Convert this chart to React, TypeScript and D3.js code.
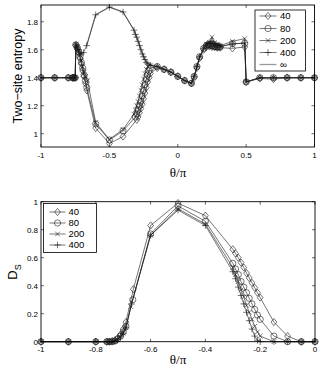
import * as d3 from 'd3'
import React from 'react'

const sans = '"Liberation Sans", Arial, Helvetica, sans-serif'
const serif = '"Liberation Serif", "Times New Roman", serif'

// ---- top panel: two-site entropy vs theta/pi ----
const top40: [number, number][] = [
  [-1, 1.4], [-0.9, 1.4], [-0.8, 1.4], [-0.77, 1.4], [-0.76, 1.4], [-0.75, 1.4],
  [-0.745, 1.63], [-0.735, 1.61], [-0.725, 1.58], [-0.715, 1.54], [-0.705, 1.5], [-0.695, 1.45],
  [-0.685, 1.41], [-0.675, 1.36], [-0.665, 1.31], [-0.6, 1.04], [-0.5, 0.93], [-0.4, 0.98],
  [-0.3, 1.1], [-0.29, 1.12], [-0.28, 1.15], [-0.27, 1.18], [-0.26, 1.21], [-0.25, 1.25],
  [-0.24, 1.29], [-0.23, 1.33], [-0.22, 1.37], [-0.21, 1.4], [-0.2, 1.43], [-0.15, 1.47],
  [-0.1, 1.46], [-0.05, 1.44], [0, 1.41], [0.05, 1.38], [0.1, 1.36], [0.12, 1.4], [0.14, 1.47],
  [0.16, 1.54], [0.19, 1.6], [0.21, 1.62], [0.23, 1.625], [0.25, 1.62], [0.27, 1.62], [0.29, 1.615],
  [0.31, 1.615], [0.4, 1.61], [0.49, 1.62], [0.5, 1.37], [0.6, 1.395], [0.7, 1.39], [0.8, 1.4],
  [0.9, 1.4], [1, 1.4],
]
const top80: [number, number][] = [
  [-1, 1.4], [-0.9, 1.4], [-0.8, 1.4], [-0.77, 1.4], [-0.76, 1.4], [-0.75, 1.4],
  [-0.745, 1.635], [-0.735, 1.615], [-0.725, 1.585], [-0.715, 1.55], [-0.705, 1.51], [-0.695, 1.47],
  [-0.685, 1.42], [-0.675, 1.38], [-0.665, 1.33], [-0.6, 1.07], [-0.5, 0.955], [-0.4, 1.02],
  [-0.31, 1.12], [-0.3, 1.14], [-0.29, 1.17], [-0.28, 1.2], [-0.27, 1.23], [-0.26, 1.27],
  [-0.25, 1.31], [-0.24, 1.35], [-0.23, 1.39], [-0.22, 1.42], [-0.21, 1.45], [-0.2, 1.47],
  [-0.15, 1.48], [-0.1, 1.46], [-0.05, 1.44], [0, 1.41], [0.05, 1.38], [0.1, 1.36], [0.12, 1.41],
  [0.14, 1.48], [0.16, 1.55], [0.19, 1.61], [0.21, 1.63], [0.22, 1.635], [0.23, 1.635], [0.24, 1.63],
  [0.25, 1.63], [0.26, 1.625], [0.27, 1.625], [0.28, 1.62], [0.29, 1.62], [0.3, 1.62], [0.31, 1.62],
  [0.4, 1.645], [0.49, 1.645], [0.5, 1.37], [0.6, 1.4], [0.7, 1.4], [0.8, 1.4], [0.9, 1.4], [1, 1.4],
]
const top200: [number, number][] = [
  [-1, 1.4], [-0.9, 1.4], [-0.8, 1.4], [-0.77, 1.4], [-0.76, 1.4], [-0.75, 1.4],
  [-0.745, 1.64], [-0.735, 1.62], [-0.725, 1.59], [-0.715, 1.56], [-0.705, 1.52], [-0.695, 1.48],
  [-0.685, 1.44], [-0.675, 1.41], [-0.66, 1.38], [-0.6, 1.08], [-0.5, 0.96], [-0.4, 1.03],
  [-0.32, 1.14], [-0.31, 1.17], [-0.3, 1.2], [-0.29, 1.23], [-0.28, 1.27], [-0.27, 1.31],
  [-0.26, 1.35], [-0.25, 1.39], [-0.24, 1.43], [-0.23, 1.46], [-0.22, 1.48], [-0.2, 1.49],
  [-0.15, 1.48], [-0.1, 1.46], [-0.05, 1.44], [0, 1.41], [0.05, 1.38], [0.1, 1.36], [0.12, 1.41],
  [0.14, 1.48], [0.16, 1.55], [0.19, 1.61], [0.21, 1.64], [0.23, 1.65], [0.25, 1.69], [0.27, 1.65],
  [0.29, 1.64], [0.31, 1.63], [0.4, 1.66], [0.49, 1.68], [0.5, 1.37], [0.6, 1.4], [0.7, 1.4],
  [0.8, 1.4], [0.9, 1.4], [1, 1.4],
]
const top400: [number, number][] = [
  [-1, 1.4], [-0.9, 1.4], [-0.8, 1.4], [-0.77, 1.4], [-0.76, 1.4], [-0.75, 1.4],
  [-0.745, 1.64], [-0.735, 1.62], [-0.725, 1.6], [-0.715, 1.58], [-0.705, 1.57], [-0.69, 1.58],
  [-0.666, 1.63], [-0.6, 1.85], [-0.5, 1.905], [-0.4, 1.87], [-0.32, 1.74], [-0.31, 1.71],
  [-0.3, 1.69], [-0.29, 1.66], [-0.28, 1.63], [-0.27, 1.6], [-0.26, 1.57], [-0.25, 1.55],
  [-0.24, 1.53], [-0.23, 1.51], [-0.22, 1.5], [-0.2, 1.49], [-0.15, 1.48], [-0.1, 1.46],
  [-0.05, 1.44], [0, 1.41], [0.05, 1.38], [0.1, 1.36], [0.12, 1.41], [0.14, 1.48], [0.16, 1.55],
  [0.19, 1.61], [0.21, 1.635], [0.22, 1.645], [0.23, 1.65], [0.24, 1.645], [0.25, 1.66], [0.26, 1.645],
  [0.27, 1.64], [0.28, 1.635], [0.29, 1.63], [0.3, 1.63], [0.31, 1.625], [0.4, 1.64], [0.49, 1.65],
  [0.5, 1.37], [0.6, 1.4], [0.7, 1.4], [0.8, 1.4], [0.9, 1.4], [1, 1.4],
]
const topInf: [number, number][] = [
  [-0.666, 1.63], [-0.6, 1.85], [-0.5, 1.905], [-0.4, 1.87], [-0.32, 1.74], [-0.23, 1.51], [-0.2, 1.49],
]

// ---- bottom panel: D_S vs theta/pi ----
const bot40: [number, number][] = [
  [-1, 0], [-0.9, 0], [-0.8, 0], [-0.76, 0], [-0.75, 0], [-0.74, 0.005], [-0.73, 0.01], [-0.72, 0.025],
  [-0.71, 0.05], [-0.7, 0.09], [-0.69, 0.14], [-0.663, 0.375], [-0.6, 0.83], [-0.5, 0.99], [-0.4, 0.9],
  [-0.3, 0.66], [-0.29, 0.63], [-0.28, 0.6], [-0.27, 0.565], [-0.26, 0.53], [-0.25, 0.49], [-0.24, 0.455],
  [-0.23, 0.42], [-0.22, 0.385], [-0.21, 0.35], [-0.2, 0.315], [-0.15, 0.14], [-0.1, 0.04], [-0.05, 0], [0, 0],
]
const bot80: [number, number][] = [
  [-1, 0], [-0.9, 0], [-0.8, 0], [-0.76, 0], [-0.75, 0], [-0.74, 0], [-0.73, 0.005], [-0.72, 0.02],
  [-0.71, 0.04], [-0.7, 0.07], [-0.69, 0.11], [-0.665, 0.3], [-0.6, 0.77], [-0.5, 0.97], [-0.4, 0.86],
  [-0.3, 0.56], [-0.29, 0.52], [-0.28, 0.48], [-0.27, 0.43], [-0.26, 0.39], [-0.25, 0.35], [-0.24, 0.31],
  [-0.23, 0.27], [-0.22, 0.23], [-0.21, 0.19], [-0.2, 0.16], [-0.15, 0.04], [-0.1, 0], [-0.05, 0], [0, 0],
]
const bot200: [number, number][] = [
  [-1, 0], [-0.9, 0], [-0.8, 0], [-0.76, 0], [-0.75, 0], [-0.74, 0], [-0.73, 0.005], [-0.72, 0.015],
  [-0.71, 0.035], [-0.7, 0.06], [-0.69, 0.1], [-0.672, 0.25], [-0.6, 0.76], [-0.5, 0.95], [-0.4, 0.84],
  [-0.3, 0.53], [-0.29, 0.48], [-0.28, 0.43], [-0.27, 0.37], [-0.26, 0.32], [-0.25, 0.26], [-0.24, 0.21],
  [-0.23, 0.16], [-0.22, 0.11], [-0.21, 0.07], [-0.2, 0.04], [-0.15, 0], [-0.1, 0], [-0.05, 0], [0, 0],
]
const bot400: [number, number][] = [
  [-1, 0], [-0.9, 0], [-0.8, 0], [-0.76, 0], [-0.75, 0], [-0.74, 0], [-0.73, 0.005], [-0.72, 0.015],
  [-0.71, 0.035], [-0.7, 0.06], [-0.69, 0.1], [-0.67, 0.27], [-0.6, 0.76], [-0.5, 0.94], [-0.4, 0.83],
  [-0.3, 0.5], [-0.29, 0.45], [-0.28, 0.39], [-0.27, 0.33], [-0.26, 0.27], [-0.25, 0.21], [-0.24, 0.15],
  [-0.23, 0.09], [-0.22, 0.04], [-0.21, 0.01], [-0.2, 0], [-0.15, 0], [-0.1, 0], [-0.05, 0], [0, 0],
]

const legendNames = ['40', '80', '200', '400', '∞']
const markerTypes = ['diamond', 'circle', 'x', 'plus', 'none']

const topXTicks = [-1, -0.5, 0, 0.5, 1]
const topXTickLabels = ['-1', '-0.5', '0', '0.5', '1']
const topYTicks = [1, 1.2, 1.4, 1.6, 1.8]
const topYTickLabels = ['1', '1.2', '1.4', '1.6', '1.8']
const botXTicks = [-1, -0.8, -0.6, -0.4, -0.2, 0]
const botXTickLabels = ['-1', '-0.8', '-0.6', '-0.4', '-0.2', '0']
const botYTicks = [0, 0.2, 0.4, 0.6, 0.8, 1]
const botYTickLabels = ['0', '0.2', '0.4', '0.6', '0.8', '1']

const ink = '#1a1a1a'

const Marker = ({ type, x, y }: { type: string; x: number; y: number }) => {
  const p = { fill: 'none', stroke: ink, strokeWidth: 0.6 }
  if (type === 'diamond')
    return <path d={`M${x},${y - 3.6}L${x + 2.9},${y}L${x},${y + 3.6}L${x - 2.9},${y}Z`} {...p} />
  if (type === 'circle') return <circle cx={x} cy={y} r={3.1} {...p} />
  if (type === 'x')
    return <path d={`M${x - 2.3},${y - 2.3}L${x + 2.3},${y + 2.3}M${x - 2.3},${y + 2.3}L${x + 2.3},${y - 2.3}`} {...p} />
  if (type === 'plus')
    return <path d={`M${x - 3.3},${y}L${x + 3.3},${y}M${x},${y - 3.3}L${x},${y + 3.3}`} {...p} />
  return null
}

type PanelProps = {
  left: number; right: number; top: number; bottom: number
  xDomain: [number, number]; yDomain: [number, number]
  xTicks: number[]; xTickLabels: string[]; yTicks: number[]; yTickLabels: string[]
  series: { data: [number, number][]; marker: string; gray?: boolean }[]
}

const Panel = (props: PanelProps) => {
  const { left, right, top, bottom } = props
  const x = d3.scaleLinear().domain(props.xDomain).range([left, right])
  const y = d3.scaleLinear().domain(props.yDomain).range([bottom, top])
  const line = d3.line<[number, number]>().x(d => x(d[0])).y(d => y(d[1]))
  const tl = 3
  return (
    <g>
      {props.series.map((s, i) => (
        <g key={i}>
          <path d={line(s.data) || ''} fill="none"
            stroke={s.gray ? '#9a9a9a' : ink} strokeWidth={s.gray ? 1.2 : 0.6} />
          {s.data.map((d, j) => <Marker key={j} type={s.marker} x={x(d[0])} y={y(d[1])} />)}
        </g>
      ))}
      <rect x={left} y={top} width={right - left} height={bottom - top} fill="none" stroke="#000" strokeWidth={0.9} />
      {props.xTicks.map((t, i) => (
        <g key={'x' + i}>
          <line x1={x(t)} x2={x(t)} y1={bottom} y2={bottom - tl} stroke="#000" strokeWidth={0.6} />
          <line x1={x(t)} x2={x(t)} y1={top} y2={top + tl} stroke="#000" strokeWidth={0.6} />
          <text x={x(t)} y={bottom + 10.5} fontSize={8} fontFamily={sans} textAnchor="middle">
            {props.xTickLabels[i]}
          </text>
        </g>
      ))}
      {props.yTicks.map((t, i) => (
        <g key={'y' + i}>
          <line x1={left} x2={left + tl} y1={y(t)} y2={y(t)} stroke="#000" strokeWidth={0.6} />
          <line x1={right} x2={right - tl} y1={y(t)} y2={y(t)} stroke="#000" strokeWidth={0.6} />
          <text x={left - 3} y={y(t) + 2.8} fontSize={8} fontFamily={sans} textAnchor="end">
            {props.yTickLabels[i]}
          </text>
        </g>
      ))}
    </g>
  )
}

const Legend = ({ x, y, w, h, rows, lineX0, lineX1, textX, n }:
  { x: number; y: number; w: number; h: number; rows: number[]; lineX0: number; lineX1: number; textX: number; n: number }) => (
  <g>
    <rect x={x} y={y} width={w} height={h} fill="#fff" stroke="#000" strokeWidth={0.8} />
    {rows.slice(0, n).map((ry, i) => (
      <g key={i}>
        <line x1={lineX0} x2={lineX1} y1={ry} y2={ry}
          stroke={markerTypes[i] === 'none' ? '#9a9a9a' : ink} strokeWidth={markerTypes[i] === 'none' ? 1.3 : 0.6} />
        <Marker type={markerTypes[i]} x={(lineX0 + lineX1) / 2} y={ry} />
        <text x={textX} y={ry + 3.4} fontSize={9.5} fontFamily={sans}>{legendNames[i]}</text>
      </g>
    ))}
  </g>
)

export default function App() {
  return (
    <svg width={324} height={372} style={{ position: 'absolute', left: 0, top: 0, background: '#fff' }}>
      <Panel left={41} right={314.5} top={5} bottom={147} xDomain={[-1, 1]} yDomain={[0.905, 1.92]}
        xTicks={topXTicks} xTickLabels={topXTickLabels} yTicks={topYTicks} yTickLabels={topYTickLabels}
        series={[
          { data: topInf, marker: 'none', gray: true },
          { data: top40, marker: 'diamond' },
          { data: top80, marker: 'circle' },
          { data: top200, marker: 'x' },
          { data: top400, marker: 'plus' },
        ]} />
      <Legend x={255} y={10} w={50.5} h={61} rows={[16, 28.5, 40.5, 52.5, 64.5]}
        lineX0={259.5} lineX1={276.5} textX={280} n={5} />
      <text transform="translate(22,76) rotate(-90)" fontSize={12.5} fontFamily={sans} textAnchor="middle">
        Two−site entropy
      </text>
      <text x={178} y={176.5} fontSize={13} fontFamily={serif} textAnchor="middle">θ/π</text>

      <Panel left={41} right={315} top={201.7} bottom={341.7} xDomain={[-1, 0]} yDomain={[0, 1]}
        xTicks={botXTicks} xTickLabels={botXTickLabels} yTicks={botYTicks} yTickLabels={botYTickLabels}
        series={[
          { data: bot40, marker: 'diamond' },
          { data: bot80, marker: 'circle' },
          { data: bot200, marker: 'x' },
          { data: bot400, marker: 'plus' },
        ]} />
      <Legend x={43.5} y={203.5} w={53} h={49} rows={[212, 223, 234, 245]}
        lineX0={49.5} lineX1={65.5} textX={68.5} n={4} />
      <text transform="translate(17,272) rotate(-90)" fontSize={13} fontFamily={sans} textAnchor="middle">
        D<tspan fontSize={9} dy={3.5}>S</tspan>
      </text>
      <text x={178} y={364} fontSize={13} fontFamily={serif} textAnchor="middle">θ/π</text>
    </svg>
  )
}
